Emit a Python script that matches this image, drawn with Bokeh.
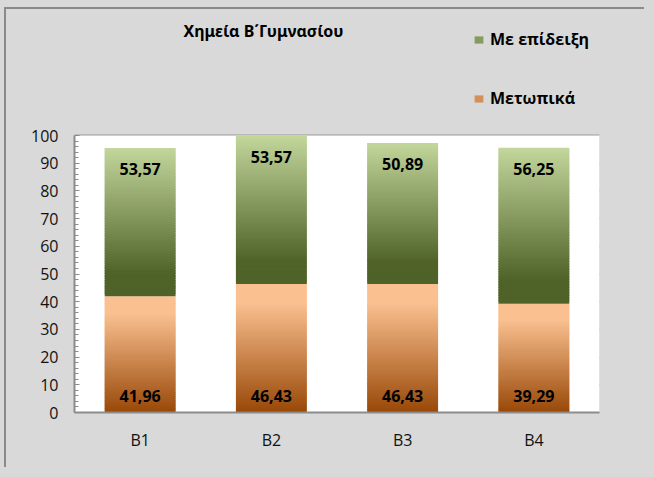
from bokeh.plotting import figure
from bokeh.models import (ColumnDataSource, FactorRange, Range1d, FixedTicker, BoxAnnotation,
                          Label, Legend, LegendItem)
from bokeh.core.properties import value
from bokeh.embed import file_html
from bokeh.resources import INLINE

# ---- data ----
categories = ["B1", "B2", "B3", "B4"]
metopika = [41.96, 46.43, 46.43, 39.29]        # Μετωπικά (bottom)
me_epideixi = [53.57, 53.57, 50.89, 56.25]     # Με επίδειξη (top)
series_names = ["Με επίδειξη", "Μετωπικά"]
title_text = "Χημεία Β΄Γυμνασίου"
y_axis_max = 100
y_ticks = list(range(0, 101, 10))
y_minor_ticks = list(range(0, 101, 2))

# ---- style / layout ----
FONT = "Open Sans"
TITLE_FONT = "Noto Sans"
BG = "#d9d9d9"
GREEN_LIGHT, GREEN_DARK = (195, 214, 155), (79, 98, 40)
ORANGE_LIGHT, ORANGE_DARK = (250, 192, 144), (152, 72, 7)
N_SLICES = 60
BAR_W = 0.54
OX, OY = 6, 9                     # figure content origin on the page (after css margin+border)
W, H = 640, 460
FRAME_LEFT, FRAME_RIGHT, FRAME_BOTTOM = 74, 599, 412   # page pixels
BORDER_L = FRAME_LEFT - OX
BORDER_R = W - (FRAME_RIGHT - OX)
BORDER_B = H - (FRAME_BOTTOM - OY)
FRAME_H = FRAME_BOTTOM - OY
PLOT_H = 277                      # pixel height of the 0..100 plot area
Y_TOP = y_axis_max * FRAME_H / PLOT_H


def lerp(c1, c2, t):
    t = max(0.0, min(1.0, t))
    return "#%02x%02x%02x" % tuple(int(round(a + (b - a) * t)) for a, b in zip(c1, c2))


def green_color(t):  # t: 0 top -> 1 bottom
    return lerp(GREEN_LIGHT, GREEN_DARK, t / 0.85)


def orange_color(t):
    return lerp(ORANGE_LIGHT, ORANGE_DARK, (t - 0.15) / 0.85)


def gradient_source(bases, vals, colfn):
    d = dict(x=[], bottom=[], top=[], color=[])
    for cat, b, v in zip(categories, bases, vals):
        for i in range(N_SLICES):
            lo = b + v * i / N_SLICES
            hi = b + v * (i + 1) / N_SLICES
            if i < N_SLICES - 1:
                hi += 0.6 * v / N_SLICES
            t = 1.0 - (i + 0.5) / N_SLICES
            d["x"].append(cat)
            d["bottom"].append(lo)
            d["top"].append(hi)
            d["color"].append(colfn(t))
    return ColumnDataSource(d)


p = figure(width=W, height=H, x_range=FactorRange(*categories, range_padding=0),
           y_range=Range1d(0, Y_TOP), output_backend="svg", toolbar_location=None,
           min_border_left=BORDER_L, min_border_right=BORDER_R, min_border_top=0,
           min_border_bottom=BORDER_B)
p.styles = {"margin-left": "4px", "margin-top": "7px",
            "border-left": "2px solid #8a8a8a", "border-top": "2px solid #8a8a8a"}
p.background_fill_color = BG
p.border_fill_color = BG
p.outline_line_color = None

# white plot area (0 .. axis max)
p.add_layout(BoxAnnotation(bottom=0, top=y_axis_max, fill_color="white", fill_alpha=1,
                           line_color=None, level="underlay"))

zeros = [0] * len(categories)
src_o = gradient_source(zeros, metopika, orange_color)
src_g = gradient_source(metopika, me_epideixi, green_color)
r_o = p.vbar(x="x", bottom="bottom", top="top", width=BAR_W, source=src_o,
             fill_color="color", line_color=None)
r_g = p.vbar(x="x", bottom="bottom", top="top", width=BAR_W, source=src_g,
             fill_color="color", line_color=None)

# data labels
totals = [a + b for a, b in zip(metopika, me_epideixi)]
fmt = lambda v: f"{v:.2f}".replace(".", ",")
lab = ColumnDataSource(dict(x=categories, ytop=totals, ybot=zeros,
                            tg=[fmt(v) for v in me_epideixi], to=[fmt(v) for v in metopika]))
p.text(x="x", y="ytop", text="tg", source=lab, text_align="center", text_baseline="middle",
       y_offset=21, text_font=value(FONT), text_font_style="bold", text_font_size="16px",
       text_color="black")
p.text(x="x", y="ybot", text="to", source=lab, text_align="center", text_baseline="middle",
       y_offset=-17, text_font=value(FONT), text_font_style="bold", text_font_size="16px",
       text_color="black")

# axes
p.yaxis.ticker = FixedTicker(ticks=y_ticks, minor_ticks=y_minor_ticks)
p.yaxis.bounds = (0, y_axis_max)
p.ygrid.ticker = FixedTicker(ticks=y_ticks)
p.xgrid.grid_line_color = None
p.ygrid.grid_line_color = "#9a9a9a"
p.ygrid.grid_line_width = 2
for ax in (p.xaxis, p.yaxis):
    ax.axis_line_color = "#8c8c8c"
    ax.axis_line_width = 2
    ax.major_label_text_font = FONT
    ax.major_label_text_font_size = "16px"
    ax.major_label_text_color = "#111111"
p.yaxis.major_tick_in = 5
p.yaxis.major_tick_out = 0
p.yaxis.minor_tick_in = 4
p.yaxis.minor_tick_out = 0
p.yaxis.major_tick_line_color = "#8c8c8c"
p.yaxis.minor_tick_line_color = "#8c8c8c"
p.yaxis.major_label_standoff = 16
p.xaxis.major_tick_line_color = None
p.xaxis.minor_tick_line_color = None
p.xaxis.major_tick_out = 0
p.xaxis.major_tick_in = 0
p.xaxis.major_label_standoff = 16

# title
p.add_layout(Label(x=189, y=382, x_units="screen", y_units="screen", text=title_text,
                   text_font=TITLE_FONT, text_font_style="bold", text_font_size="16px",
                   text_align="center", text_baseline="middle", text_color="black"))

# legend (icons use a mid-gradient slice of each series)
mid = N_SLICES // 2
legend = Legend(items=[LegendItem(label=series_names[0], renderers=[r_g], index=mid + 3),
                       LegendItem(label=series_names[1], renderers=[r_o], index=mid)],
                location=(399, 303), orientation="vertical", spacing=37,
                glyph_width=11, glyph_height=9, label_standoff=6, padding=0, margin=0,
                border_line_color=None, background_fill_alpha=0,
                label_text_font=FONT, label_text_font_style="bold", label_text_font_size="16px",
                label_text_color="black")
p.add_layout(legend, "center")

html = file_html(p, INLINE)
html = html.replace("<head>", "<head><style>body{background:#d9d9d9}</style>", 1)
open("out.html", "w").write(html)
